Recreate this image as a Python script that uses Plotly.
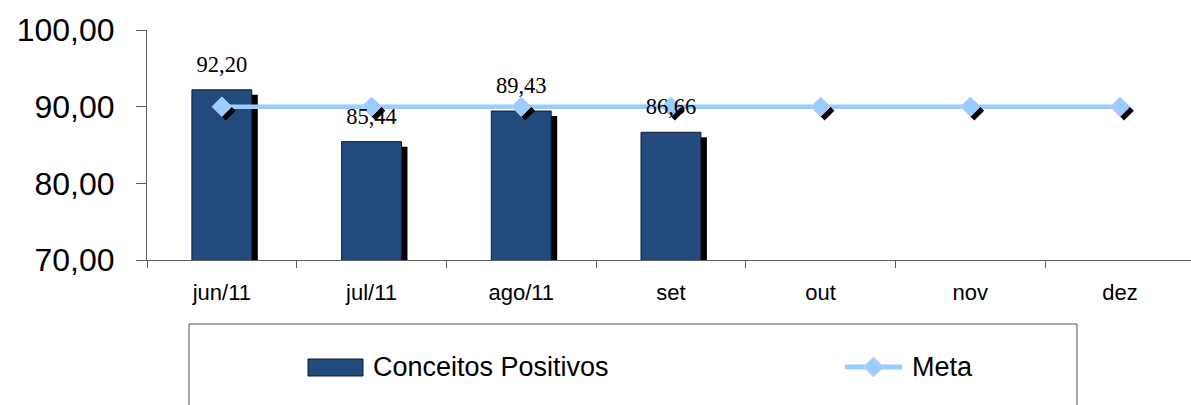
import plotly.graph_objects as go

# ---------------- data ----------------
categories = ["jun/11", "jul/11", "ago/11", "set", "out", "nov", "dez"]
conceitos = [92.20, 85.44, 89.43, 86.66, None, None, None]
meta = [90, 90, 90, 90, 90, 90, 90]
y_ticks = [70, 80, 90, 100]
series_names = ["Conceitos Positivos", "Meta"]

# ---------------- geometry / style ----------------
W, H = 1191, 405
ML, MT, MB, MR = 147, 30, 145, 0
plot_w = W - ML - MR
plot_h = H - MT - MB
cat_px = 149.7
x_lo = -0.5
x_hi = x_lo + plot_w / cat_px
y_lo, y_hi = 70, 100
px_per_y = plot_h / (y_hi - y_lo)

BAR = "#234a7d"
BAR_EDGE = "#0f1a33"
META = "#99ccff"
META_EDGE = "#ccccff"
AXIS = "#606060"


def shifted(dx_px, dy_px):
    dx = dx_px / cat_px
    dy = dy_px / px_per_y
    return [x_lo - dx, x_hi - dx], [y_lo + dy, y_hi + dy]


def px2paper(px, py):
    return (px - ML) / plot_w, (MT + plot_h - py) / plot_h


bar_sh_x, bar_sh_y = shifted(6, 5)
mk_sh_x, mk_sh_y = shifted(4, 4)

fig = go.Figure()

# bar shadows (layer A)
fig.add_trace(go.Bar(x=categories, y=conceitos, width=0.4, marker=dict(color="black", line=dict(width=0)),
                     xaxis="x", yaxis="y", showlegend=False, hoverinfo="skip"))
# bars + meta line (layer B, visible axes)
fig.add_trace(go.Bar(x=categories, y=conceitos, width=0.4, name=series_names[0],
                     marker=dict(color=BAR, line=dict(color=BAR_EDGE, width=1)),
                     xaxis="x2", yaxis="y2", showlegend=False))
fig.add_trace(go.Scatter(x=categories, y=meta, mode="lines", name=series_names[1],
                         line=dict(color=META, width=4.5), xaxis="x2", yaxis="y2", showlegend=False))
# marker shadows (layer C)
fig.add_trace(go.Scatter(x=categories, y=meta, mode="markers",
                         marker=dict(symbol="diamond", size=15, color="black", line=dict(width=0)),
                         xaxis="x3", yaxis="y3", showlegend=False, hoverinfo="skip"))
# markers + labels (layer D)
fig.add_trace(go.Scatter(x=categories, y=meta, mode="markers",
                         marker=dict(symbol="diamond", size=15, color=META, line=dict(color=META_EDGE, width=1)),
                         xaxis="x4", yaxis="y4", showlegend=False))
fig.add_trace(go.Scatter(x=categories, y=conceitos, mode="markers+text",
                         marker=dict(size=18, color="rgba(0,0,0,0)"),
                         texttemplate="%{y:.2f}", textposition="top center",
                         textfont=dict(family="Liberation Serif", size=22.5, color="black"),
                         xaxis="x4", yaxis="y4", showlegend=False, hoverinfo="skip"))

hidden = dict(visible=False, type="category", categoryorder="array", categoryarray=categories)

fig.update_layout(
    width=W, height=H,
    margin=dict(l=ML, r=MR, t=MT, b=MB, pad=0),
    paper_bgcolor="white", plot_bgcolor="rgba(0,0,0,0)",
    separators=",.",
    font=dict(family="Liberation Sans", color="black"),
    xaxis=dict(hidden, range=bar_sh_x),
    yaxis=dict(visible=False, range=bar_sh_y),
    xaxis2=dict(type="category", categoryorder="array", categoryarray=categories,
                overlaying="x", anchor="y2", range=[x_lo, x_hi],
                showline=True, linecolor=AXIS, linewidth=1,
                ticks="outside", tickson="boundaries", ticklen=7, tickcolor=AXIS,
                showgrid=False, tickfont=dict(size=22, family="Liberation Sans"),
                ticklabelstandoff=13),
    yaxis2=dict(overlaying="y", anchor="x2", range=[y_lo, y_hi], tickvals=y_ticks,
                tickformat=".2f", showline=True, linecolor=AXIS, linewidth=1,
                ticks="outside", ticklen=10, tickcolor=AXIS, showgrid=False, zeroline=False,
                tickfont=dict(size=32, family="Liberation Sans"), ticklabelstandoff=15),
    xaxis3=dict(hidden, overlaying="x", anchor="y3", range=mk_sh_x),
    yaxis3=dict(visible=False, overlaying="y", anchor="x3", range=mk_sh_y),
    xaxis4=dict(hidden, overlaying="x", anchor="y4", range=[x_lo, x_hi]),
    yaxis4=dict(visible=False, overlaying="y", anchor="x4", range=[y_lo, y_hi]),
    showlegend=False,
)

# ---------------- manual legend ----------------
shapes = []
bx0, by0 = px2paper(189, 324)
bx1, by1 = px2paper(1077, 440)
shapes.append(dict(type="rect", xref="paper", yref="paper", x0=bx0, y0=by1, x1=bx1, y1=by0,
                   line=dict(color="#505050", width=1), fillcolor="rgba(0,0,0,0)", layer="above"))
sx0, sy0 = px2paper(308, 359)
sx1, sy1 = px2paper(363, 376)
shapes.append(dict(type="rect", xref="paper", yref="paper", x0=sx0, y0=sy1, x1=sx1, y1=sy0,
                   line=dict(color=BAR_EDGE, width=1), fillcolor=BAR, layer="above"))
lx0, ly = px2paper(845, 367)
lx1, _ = px2paper(902, 367)
shapes.append(dict(type="line", xref="paper", yref="paper", x0=lx0, y0=ly, x1=lx1, y1=ly,
                   line=dict(color=META, width=5), layer="above"))
cx, cy = 873.5, 367
r = 10
pts = [px2paper(cx - r, cy), px2paper(cx, cy - r), px2paper(cx + r, cy), px2paper(cx, cy + r)]
path = "M " + " L ".join(f"{a:.5f},{b:.5f}" for a, b in pts) + " Z"
shapes.append(dict(type="path", xref="paper", yref="paper", path=path,
                   line=dict(color=META_EDGE, width=1), fillcolor=META, layer="above"))
fig.update_layout(shapes=shapes)

tx1, ty = px2paper(371, 367)
tx2, _ = px2paper(910, 367)
fig.add_annotation(x=tx1, y=ty, xref="paper", yref="paper", text=series_names[0], showarrow=False,
                   xanchor="left", yanchor="middle", font=dict(size=27, family="Liberation Sans", color="black"))
fig.add_annotation(x=tx2, y=ty, xref="paper", yref="paper", text=series_names[1], showarrow=False,
                   xanchor="left", yanchor="middle", font=dict(size=27, family="Liberation Sans", color="black"))

fig.write_html("out.html")
